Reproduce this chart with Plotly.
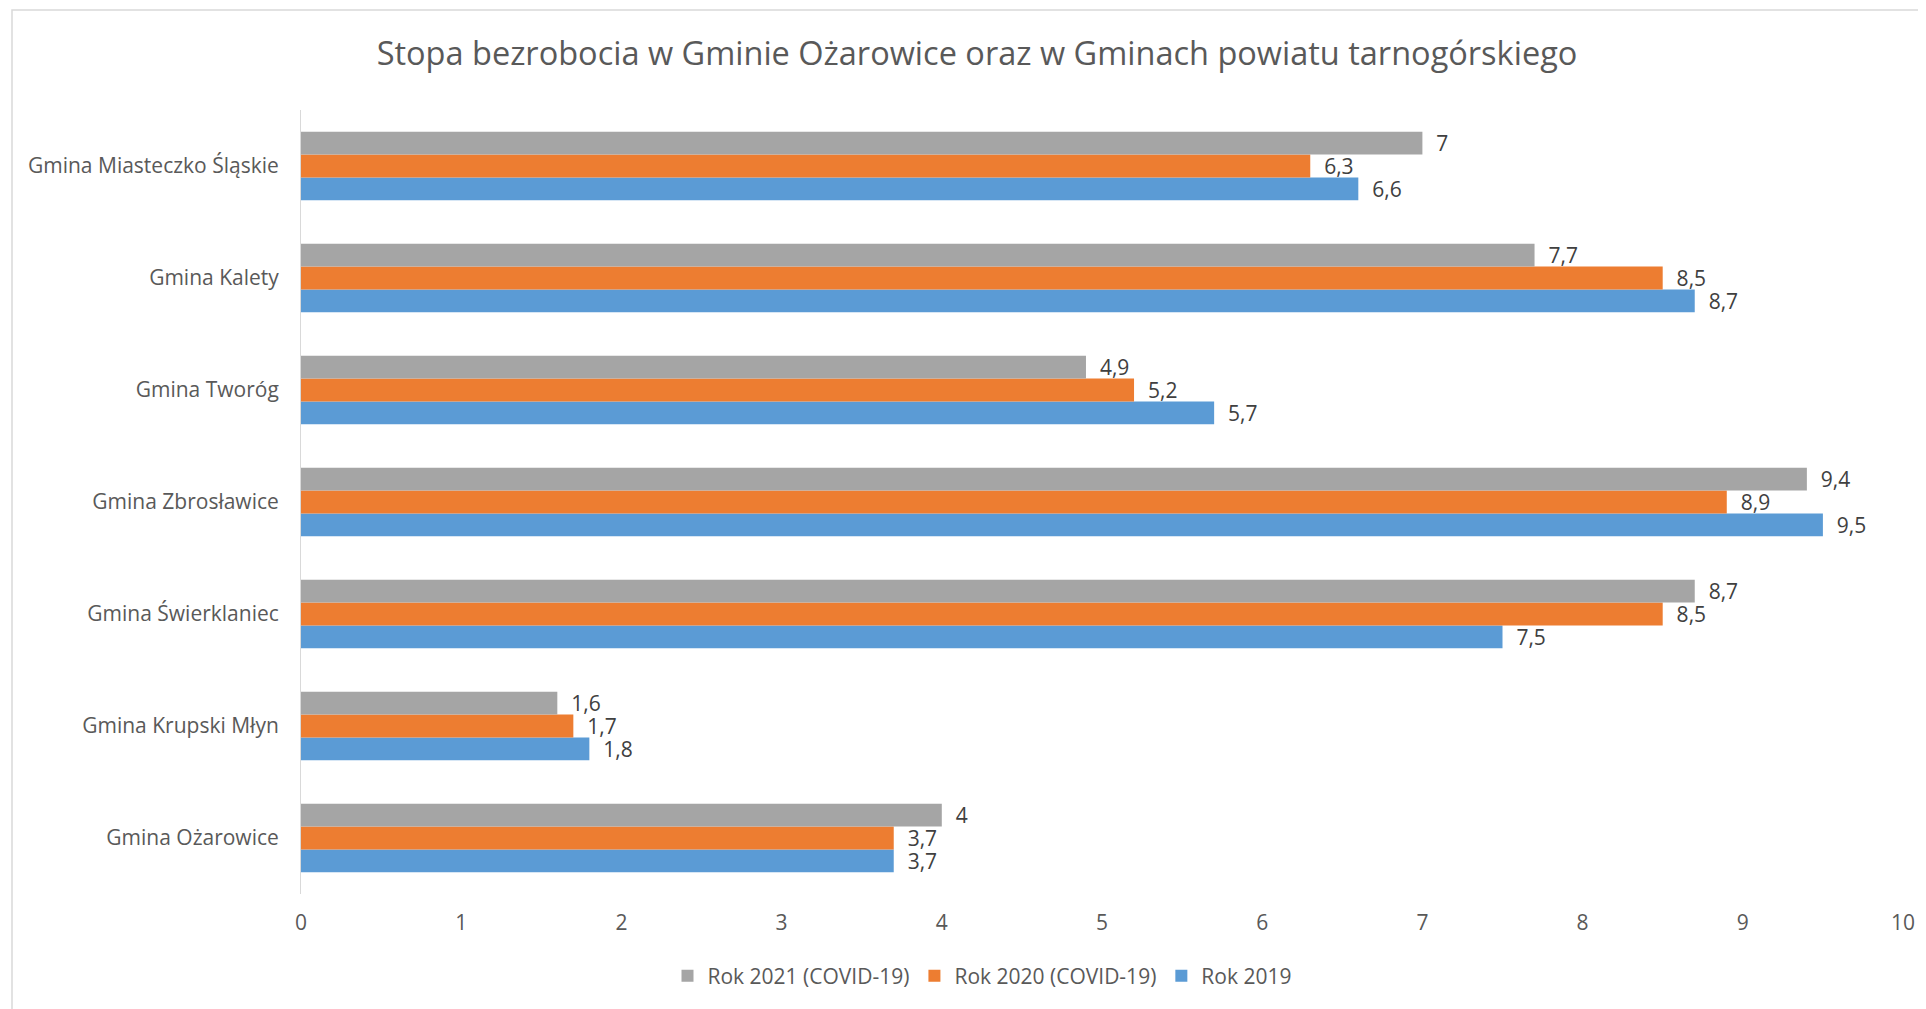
import plotly.graph_objects as go

categories = [
    "Gmina Ożarowice",
    "Gmina Krupski Młyn",
    "Gmina Świerklaniec",
    "Gmina Zbrosławice",
    "Gmina Tworóg",
    "Gmina Kalety",
    "Gmina Miasteczko Śląskie",
]
rok_2019 = [3.7, 1.8, 7.5, 9.5, 5.7, 8.7, 6.6]
rok_2020 = [3.7, 1.7, 8.5, 8.9, 5.2, 8.5, 6.3]
rok_2021 = [4.0, 1.6, 8.7, 9.4, 4.9, 7.7, 7.0]
series_names = ["Rok 2019", "Rok 2020 (COVID-19)", "Rok 2021 (COVID-19)"]
x_ticks = [0, 1, 2, 3, 4, 5, 6, 7, 8, 9, 10]

colors = ["#5B9BD5", "#ED7D31", "#A5A5A5"]
FONT = "Open Sans"
FS = 21


def fmt(v):
    s = ("%g" % v).replace(".", ",")
    return "  " + s


fig = go.Figure()
for name, vals, col in zip(series_names, [rok_2019, rok_2020, rok_2021], colors):
    fig.add_trace(go.Bar(
        y=categories, x=vals, name=name, orientation="h",
        marker=dict(color=col, line=dict(width=0)),
        text=[fmt(v) for v in vals], textposition="outside",
        constraintext="none",
        textfont=dict(family=FONT, size=FS, color="#404040"),
        cliponaxis=False, hoverinfo="x+y",
    ))

W, H = 1926, 1009
O = 8  # page body margin
L, R, T, B = 301 - O, 1903 - O, 110 - O, 894 - O

fig.update_layout(
    width=W, height=H,
    margin=dict(l=L, r=W - R, t=T, b=H - B, autoexpand=False),
    barmode="group", bargap=0.39, bargroupgap=0,
    plot_bgcolor="white", paper_bgcolor="white",
    font=dict(family=FONT, color="#595959", size=FS),
    title=dict(
        text="Stopa bezrobocia w Gminie Ożarowice oraz w Gminach powiatu tarnogórskiego",
        font=dict(family=FONT, size=32.5, color="#595959"),
        x=(977 - O - L) / (R - L), xref="paper", xanchor="center",
        y=1 - (54 - O) / H, yref="container", yanchor="middle",
    ),
    xaxis=dict(
        range=[0, 10], tickvals=x_ticks, showgrid=False, zeroline=False,
        showline=False, ticks="", tickfont=dict(size=FS, color="#595959"),
        ticklabelstandoff=14,
    ),
    yaxis=dict(
        categoryorder="array", categoryarray=categories,
        showgrid=False, zeroline=False, showline=True, linecolor="#D9D9D9",
        linewidth=1, ticks="", ticklabelstandoff=17,
        tickfont=dict(size=FS, color="#595959"),
        range=[-0.5, 6.5],
    ),
    legend=dict(
        orientation="h", traceorder="reversed",
        x=(982 - O - L) / (R - L), xanchor="center",
        y=(B - (976 - O)) / (B - T), yanchor="middle",
        font=dict(size=FS, color="#595959"),
        itemclick=False,
    ),
    showlegend=True,
)

# outer chart frame (light gray border like the original chart area)
fig.add_shape(
    type="rect", xref="paper", yref="paper",
    x0=(12 - O - L) / (R - L), x1=(W + 20 - L) / (R - L),
    y0=(B - (H + 20)) / (B - T), y1=(B - (10 - O)) / (B - T),
    line=dict(color="#D9D9D9", width=1.5), fillcolor="rgba(0,0,0,0)", layer="below",
)

fig.write_html("out.html")
